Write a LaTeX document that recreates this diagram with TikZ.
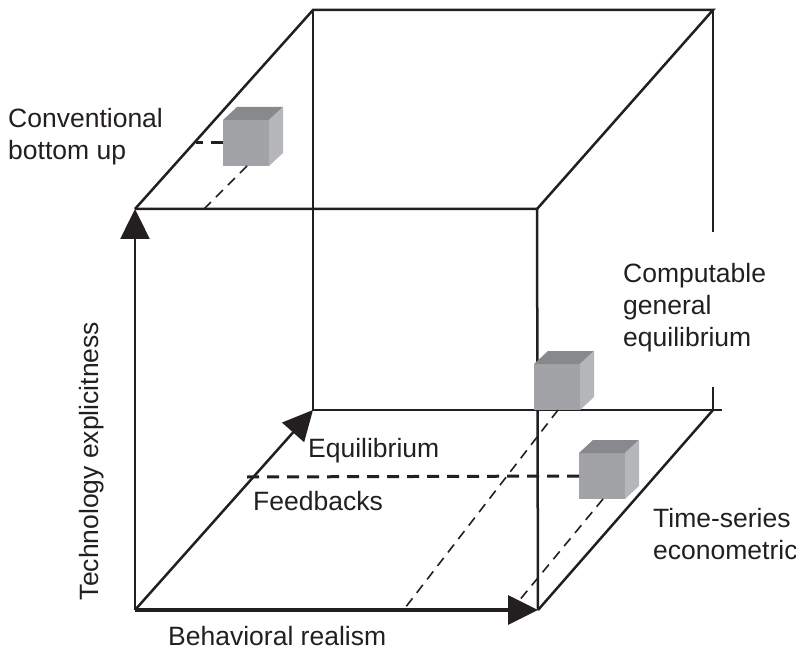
\documentclass[tikz,border=0pt]{standalone}
\usepackage{fontspec}
\setmainfont{Liberation Sans}
\usetikzlibrary{arrows.meta}
\definecolor{ink}{HTML}{231F20}
\definecolor{cubefront}{HTML}{A2A3A7}
\definecolor{cubetop}{HTML}{88898D}
\definecolor{cuberight}{HTML}{B5B6BA}
\begin{document}
\begin{tikzpicture}[x=1pt,y=-1pt,
  edge/.style={draw=ink, line width=2.5pt, line join=miter},
  axis/.style={edge, -{Triangle[length=30pt,width=29pt]}},
  thickdash/.style={draw=ink, line width=3pt, dash pattern=on 12pt off 8pt},
  thindash/.style={draw=ink, line width=1.6pt, dash pattern=on 10pt off 7pt},
  lbl/.style={text=ink, font=\fontsize{26.5}{32}\selectfont, inner sep=0pt, align=left},
  gcube/.pic={
    \fill[cubefront] (0,0) rectangle (46,-46);
    \fill[cubetop] (0,-46) -- (14,-59) -- (60,-59) -- (46,-46) -- cycle;
    \fill[cuberight] (46,0) -- (46,-46) -- (60,-59) -- (60,-13) -- cycle;
    \coordinate (-left) at (0,-23);
    \coordinate (-bottom) at (24,0);
  }]
\useasboundingbox (0,0) rectangle (796,650);

% cube frame corners
\coordinate (FBL) at (135,610);
\coordinate (FBR) at (538,610);
\coordinate (FTL) at (135,209);
\coordinate (FTR) at (537,209);
\coordinate (BBL) at (313,410);
\coordinate (BTL) at (313,10);
\coordinate (BTR) at (713,10);
\coordinate (BBR) at (713,410);
\coordinate (BBRx) at (722,410);
\coordinate (BRgapTop) at (713,232);
\coordinate (BRgapBot) at (713,387);

% frame edges
\draw[edge] (FTL) -- (FTR) -- (FBR);
\draw[edge] (FTL) -- (BTL) -- (BTR) -- (FTR);
\draw[edge] (BTL) -- (BBL) -- (BBRx);
\draw[edge] (BTR) -- (BRgapTop);
\draw[edge] (BRgapBot) -- (BBR);
\draw[edge] (FBR) -- (BBR);

% axes
\draw[axis] (FBL) -- (FTL);
\draw[axis, line width=3.5pt] (FBL) -- (FBR);
\draw[axis] (FBL) -- (BBL);

% small cubes
\pic (c1) at (223,166) {gcube};
\pic (c2) at (534,410) {gcube};
\pic (c3) at (579,499) {gcube};

% dashed projections
\coordinate (d1a) at (196,143);
\coordinate (d1b) at (203,210);
\coordinate (d2b) at (405,608);
\coordinate (d3a) at (247,477);
\coordinate (d3b) at (518,602);
\draw[thickdash] (c1-left) -- (d1a);
\draw[thindash] (c1-bottom) -- (d1b);
\draw[thindash] (c2-bottom) -- (d2b);
\draw[thickdash] (c3-left) -- (d3a);
\draw[thindash] (c3-bottom) -- (d3b);

% labels
\node[lbl, anchor=north west] (conv) at (8,108) {Conventional\\bottom up};
\node[lbl, anchor=north west] (cge) at (623,263) {Computable\\general\\equilibrium};
\node[lbl, anchor=north west] (ts) at (653,508) {Time-series\\econometrics};
\node[lbl, anchor=north west] (equil) at (308,438) {Equilibrium};
\node[lbl, anchor=north west] (feed) at (253,491) {Feedbacks};
\node[lbl, anchor=north west] (behav) at (168,626) {Behavioral realism};
\node[lbl, anchor=center, rotate=90] (tech) at (92,461) {Technology explicitness};
\end{tikzpicture}
\end{document}
